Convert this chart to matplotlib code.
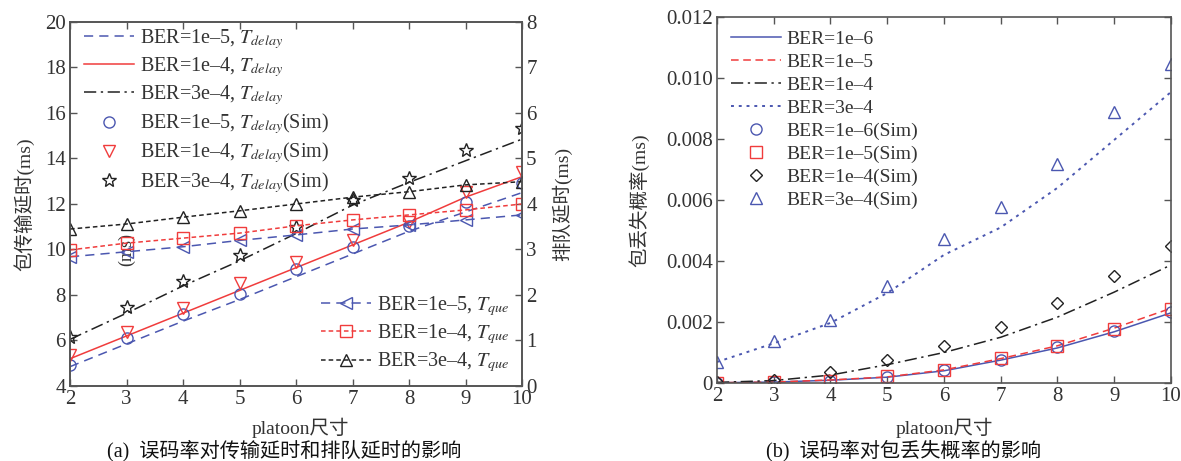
import numpy as np
import matplotlib.pyplot as plt

plt.rcParams['font.family'] = ['Liberation Serif', 'Noto Sans CJK SC']
plt.rcParams['mathtext.fontset'] = 'stix'
plt.rcParams['axes.unicode_minus'] = False

# ---- data ----
platoon = [2, 3, 4, 5, 6, 7, 8, 9, 10]

# (a) transmission delay, left axis (ms)
tdelay_1e5 = [4.85, 5.85, 6.85, 7.8, 8.8, 9.8, 10.8, 11.65, 12.5]
tdelay_1e4 = [5.2, 6.2, 7.2, 8.2, 9.2, 10.2, 11.2, 12.3, 13.2]
tdelay_3e4 = [6.05, 7.2, 8.4, 9.5, 10.7, 11.95, 12.95, 13.9, 14.85]
tdelay_1e5_sim = [4.92, 6.11, 7.16, 8.04, 9.14, 10.11, 11.03, 12.09, 12.92]
tdelay_1e4_sim = [5.36, 6.37, 7.43, 8.53, 9.45, 10.42, 11.2, 12.53, 13.4]
tdelay_3e4_sim = [6.15, 7.47, 8.62, 9.76, 11.0, 12.18, 13.14, 14.37, 15.34]

# (a) queueing delay, right axis (ms)
tque_1e5 = [2.84, 2.95, 3.06, 3.2, 3.32, 3.45, 3.54, 3.65, 3.76]
tque_1e4 = [2.99, 3.14, 3.25, 3.36, 3.52, 3.65, 3.76, 3.87, 4.0]
tque_3e4 = [3.45, 3.56, 3.71, 3.85, 4.0, 4.15, 4.27, 4.42, 4.49]

# (b) packet loss probability
loss_1e6 = [0.00001, 0.00003, 0.00009, 0.00019, 0.0004, 0.00075, 0.00115, 0.00168, 0.0023]
loss_1e5 = [0.00001, 0.00003, 0.0001, 0.0002, 0.00043, 0.0008, 0.00122, 0.0018, 0.00245]
loss_1e4 = [0.00002, 0.00008, 0.00026, 0.0006, 0.001, 0.0015, 0.00216, 0.00298, 0.00387]
loss_3e4 = [0.00069, 0.0013, 0.00197, 0.00295, 0.0042, 0.0051, 0.0064, 0.00797, 0.00954]
loss_1e6_sim = [0.0, 0.00002, 0.00005, 0.0002, 0.00041, 0.00075, 0.00117, 0.0017, 0.00232]
loss_1e5_sim = [0.0, 0.00002, 0.00006, 0.00023, 0.00043, 0.00081, 0.00121, 0.00177, 0.00243]
loss_1e4_sim = [0.00002, 0.0001, 0.00036, 0.00075, 0.00121, 0.00184, 0.00262, 0.00351, 0.00449]
loss_3e4_sim = [0.00069, 0.00138, 0.00207, 0.00318, 0.00472, 0.00577, 0.00718, 0.00889, 0.01046]

BLUE = '#4b57b0'
RED = '#f03c3c'
BLACK = '#222222'
SPINE = '#555555'
TXT = '#333333'
FS = 15      # tick labels
LFS = 14.5   # legend (a)
LBS = 14     # axis labels

fig = plt.figure(figsize=(11.81, 4.61), dpi=100)
ax = fig.add_axes([0.0593, 0.1627, 0.3827, 0.7896])
ax2 = ax.twinx()
bx = fig.add_axes([0.6071, 0.1692, 0.3844, 0.7939])


def style(a, right=True):
    for s in a.spines.values():
        s.set_color(SPINE)
        s.set_linewidth(1.2)
    a.tick_params(direction='in', colors=SPINE, labelcolor=TXT, labelsize=FS,
                  length=5, width=1.0, top=True, right=right, pad=3)


# ---- panel (a) ----
mk = dict(mfc='none', ms=8, mew=1.0)
l1, = ax.plot(platoon, tdelay_1e5, color=BLUE, ls=(0, (6, 4)), lw=1.1)
l2, = ax.plot(platoon, tdelay_1e4, color=RED, ls='-', lw=1.1)
l3, = ax.plot(platoon, tdelay_3e4, color=BLACK, ls=(0, (8, 3, 1.5, 3)), lw=1.1)
s1, = ax.plot(platoon, tdelay_1e5_sim, ls='none', marker='o', color=BLUE, **mk)
s2, = ax.plot(platoon, tdelay_1e4_sim, ls='none', marker='v', color=RED, **mk)
s3, = ax.plot(platoon, tdelay_3e4_sim, ls='none', marker='*', color=BLACK, mfc='none', ms=10, mew=1.0)

q1, = ax2.plot(platoon, tque_1e5, color=BLUE, ls=(0, (6, 4)), lw=1.1, marker='<', **mk)
q2, = ax2.plot(platoon, tque_1e4, color=RED, ls=(0, (3, 2)), lw=1.1, marker='s', **mk)
q3, = ax2.plot(platoon, tque_3e4, color=BLACK, ls=(0, (3, 2)), lw=1.1, marker='^', **mk)

ax.set_xlim(2, 10)
ax.set_ylim(4, 20)
ax.set_yticks(np.arange(4, 21, 2))
ax.set_xticks(platoon)
ax2.set_ylim(0, 8)
ax2.set_yticks(np.arange(0, 9, 1))
style(ax, right=False)
style(ax2, right=True)
ax2.tick_params(left=False, top=False)

ax.set_xlabel('platoon尺寸', fontsize=LBS, color=TXT)
ax.xaxis.set_label_coords(0.51, -0.088)
ax.set_ylabel('包传输延时(ms)', fontsize=LBS, color=TXT)
ax.yaxis.set_label_coords(-0.078, 0.5)
ax2.set_ylabel('排队延时(ms)', fontsize=LBS, color=TXT)
ax2.yaxis.set_label_coords(1.066, 0.5)
ax.text(3.0, 10.0, '(ms)', rotation=90, fontsize=13, color=TXT,
        ha='center', va='center')

tdl = r'$T_{\mathit{delay}}$'
tq = r'$T_{\mathit{que}}$'
leg1 = ax.legend([l1, l2, l3, s1, s2, s3],
                 ['BER=1e–5, ' + tdl, 'BER=1e–4, ' + tdl, 'BER=3e–4, ' + tdl,
                  'BER=1e–5, ' + tdl + '(Sim)', 'BER=1e–4, ' + tdl + '(Sim)',
                  'BER=3e–4, ' + tdl + '(Sim)'],
                 loc='upper left', bbox_to_anchor=(0.0, 1.025), frameon=False,
                 fontsize=LFS, handlelength=2.5, handletextpad=0.25,
                 labelspacing=0.21, borderaxespad=0.3)
for t in leg1.get_texts():
    t.set_color(TXT)
leg2 = ax2.legend([q1, q2, q3],
                  ['BER=1e–5, ' + tq, 'BER=1e–4, ' + tq, 'BER=3e–4, ' + tq],
                  loc='lower right', bbox_to_anchor=(1.012, -0.018), frameon=False,
                  fontsize=LFS, handlelength=2.5, handletextpad=0.25,
                  labelspacing=0.22)
for t in leg2.get_texts():
    t.set_color(TXT)

# ---- panel (b) ----
r1, = bx.plot(platoon, loss_1e6, color=BLUE, ls='-', lw=1.1)
r2, = bx.plot(platoon, loss_1e5, color=RED, ls=(0, (5, 3)), lw=1.1)
r3, = bx.plot(platoon, loss_1e4, color=BLACK, ls=(0, (8, 3, 1.5, 3)), lw=1.1)
r4, = bx.plot(platoon, loss_3e4, color=BLUE, ls=(0, (1.5, 2.5)), lw=1.4)
p1, = bx.plot(platoon, loss_1e6_sim, ls='none', marker='o', color=BLUE, **mk)
p2, = bx.plot(platoon, loss_1e5_sim, ls='none', marker='s', color=RED, **mk)
p3, = bx.plot(platoon, loss_1e4_sim, ls='none', marker='D', color=BLACK, mfc='none', ms=6.5, mew=1.0)
p4, = bx.plot(platoon, loss_3e4_sim, ls='none', marker='^', color=BLUE, **mk)

bx.set_xlim(2, 10)
bx.set_ylim(0, 0.012)
bx.set_xticks(platoon)
yt = np.arange(0, 0.0121, 0.002)
bx.set_yticks(yt)
bx.set_yticklabels(['0'] + ['%.3f' % v for v in yt[1:]])
style(bx, right=True)
bx.set_xlabel('platoon尺寸', fontsize=LBS, color=TXT)
bx.xaxis.set_label_coords(0.5, -0.095)
bx.set_ylabel('包丢失概率(ms)', fontsize=LBS, color=TXT)
bx.yaxis.set_label_coords(-0.15, 0.5)

leg3 = bx.legend([r1, r2, r3, r4, p1, p2, p3, p4],
                 ['BER=1e–6', 'BER=1e–5', 'BER=1e–4', 'BER=3e–4',
                  'BER=1e–6(Sim)', 'BER=1e–5(Sim)', 'BER=1e–4(Sim)', 'BER=3e–4(Sim)'],
                 loc='upper left', bbox_to_anchor=(0.0, 1.0), frameon=False,
                 fontsize=14, handlelength=2.6, handletextpad=0.25,
                 labelspacing=0.27, borderaxespad=0.3)
for t in leg3.get_texts():
    t.set_color(TXT)

fig.text(0.241, 0.022, '(a)  误码率对传输延时和排队延时的影响', fontsize=14.5,
         color='#111111', ha='center', va='center')
fig.text(0.765, 0.022, '(b)  误码率对包丢失概率的影响', fontsize=14.5,
         color='#111111', ha='center', va='center')

fig.savefig('out.png', dpi=100)
